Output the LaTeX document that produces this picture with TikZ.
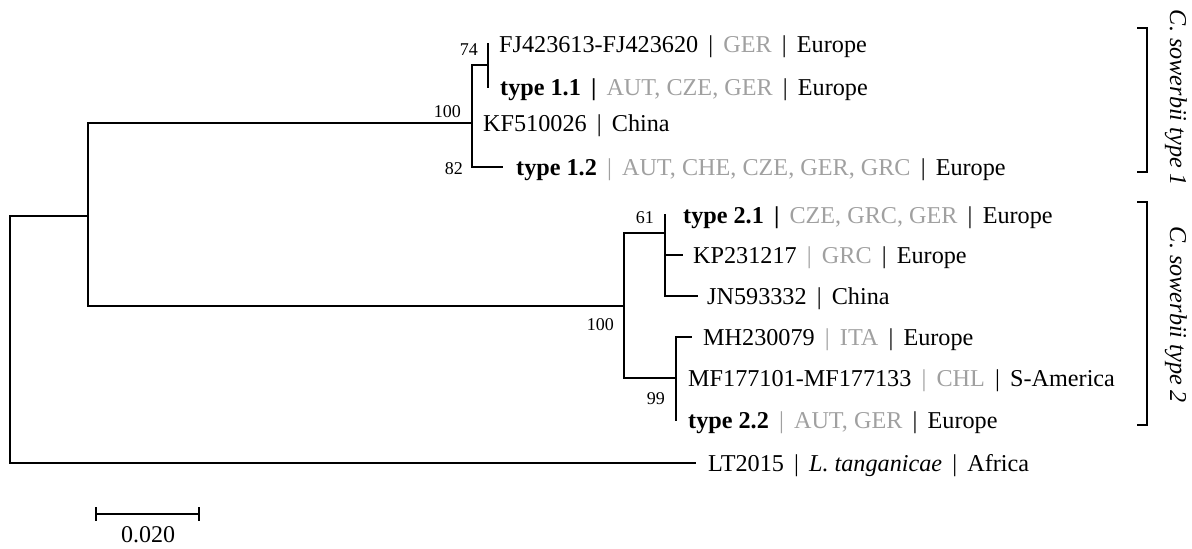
\documentclass[tikz,border=0pt]{standalone}
\usepackage{fontspec}
\setmainfont{Liberation Serif}
\definecolor{tgray}{RGB}{160,160,160}
\newcommand{\sepb}{\hspace{0.42em}|\hspace{0.42em}}
\newcommand{\sepg}{\hspace{0.42em}\textcolor{tgray}{|}\hspace{0.42em}}
\newcommand{\sepbold}{\hspace{0.42em}\textbf{|}\hspace{0.42em}}
\begin{document}
\begin{tikzpicture}[x=1pt,y=-1pt,
  branch/.style={line width=1.4pt, line cap=rect},
  leaf/.style={font=\fontsize{24.2}{28}\selectfont, inner sep=0pt, anchor=base west},
  boot/.style={font=\fontsize{18}{20}\selectfont, inner sep=0pt, anchor=east},
  clade/.style={font=\fontsize{24.2}{28}\selectfont\itshape, inner sep=0pt, rotate=-90},
  brack/.style={line width=1.3pt}]
\useasboundingbox (0,0) rectangle (1192,549);
% internal nodes
\coordinate (root) at (10,216);
\coordinate (n1) at (88,216);
\coordinate (c1) at (472,123);
\coordinate (s74) at (488,65);
\coordinate (c2) at (624,306);
\coordinate (a61) at (665,233);
\coordinate (b99) at (676,378);
% tips
\coordinate (fj) at (488,44);
\coordinate (t11) at (488,87);
\coordinate (kf) at (472,123);
\coordinate (t12) at (502,167);
\coordinate (t21) at (665,215);
\coordinate (kp) at (682,255);
\coordinate (jn) at (697,296);
\coordinate (mh) at (691,337);
\coordinate (mf) at (676,378);
\coordinate (t22) at (676,420);
\coordinate (lt) at (695,463);
% branches
\draw[branch] (root) |- (n1);
\draw[branch] (root) |- (lt);
\draw[branch] (n1) |- (c1);
\draw[branch] (n1) |- (c2);
\draw[branch] (c1) |- (s74);
\draw[branch] (c1) |- (t12);
\draw[branch] (s74) |- (fj);
\draw[branch] (s74) |- (t11);
\draw[branch] (c2) |- (a61);
\draw[branch] (c2) |- (b99);
\draw[branch] (a61) |- (t21);
\draw[branch] (a61) |- (kp);
\draw[branch] (a61) |- (jn);
\draw[branch] (b99) |- (mh);
\draw[branch] (b99) |- (mf);
\draw[branch] (b99) |- (t22);
% leaf labels
\node[leaf] (Lfj) at (499,52) {FJ423613-FJ423620\sepb\textcolor{tgray}{GER}\sepb Europe};
\node[leaf] (Lt11) at (500,95) {\textbf{type 1.1}\sepbold\textcolor{tgray}{AUT, CZE, GER}\sepb Europe};
\node[leaf] (Lkf) at (483,131) {KF510026\sepb China};
\node[leaf] (Lt12) at (516,175) {\textbf{type 1.2}\sepg\textcolor{tgray}{AUT, CHE, CZE, GER, GRC}\sepb Europe};
\node[leaf] (Lt21) at (683,223) {\textbf{type 2.1}\sepbold\textcolor{tgray}{CZE, GRC, GER}\sepb Europe};
\node[leaf] (Lkp) at (693,263) {KP231217\sepg\textcolor{tgray}{GRC}\sepb Europe};
\node[leaf] (Ljn) at (707,304) {JN593332\sepb China};
\node[leaf] (Lmh) at (703,345) {MH230079\sepg\textcolor{tgray}{ITA}\sepb Europe};
\node[leaf] (Lmf) at (688,386) {MF177101-MF177133\sepg\textcolor{tgray}{CHL}\sepb S-America};
\node[leaf] (Lt22) at (688,428) {\textbf{type 2.2}\sepg\textcolor{tgray}{AUT, GER}\sepb Europe};
\node[leaf] (Llt) at (708,471) {LT2015\sepb\textit{L. tanganicae}\sepb Africa};
% bootstrap values
\node[boot] (b74) at (478,50) {74};
\node[boot] (b100a) at (461,112) {100};
\node[boot] (b82) at (463,169) {82};
\node[boot] (b61) at (654,218) {61};
\node[boot] (b100b) at (614,325) {100};
\node[boot] (bb99) at (665,399) {99};
% scale bar
\coordinate (sa) at (96,514);
\coordinate (sb) at (199,514);
\draw[line width=1.4pt] (sa) -- (sb);
\draw[line width=1.4pt] ([yshift=7pt]sa) -- ([yshift=-7pt]sa);
\draw[line width=1.4pt] ([yshift=7pt]sb) -- ([yshift=-7pt]sb);
\node[font=\fontsize{24}{28}\selectfont, inner sep=0pt] (slabel) at (148,535) {0.020};
% clade brackets
\coordinate (k1a) at (1137,28);
\coordinate (k1b) at (1137,172);
\coordinate (k2a) at (1137,202);
\coordinate (k2b) at (1137,425);
\draw[brack] (k1a) -- ++(10,0) |- (k1b);
\draw[brack] (k2a) -- ++(10,0) |- (k2b);
\node[clade] (cl1) at (1176,98) {C. sowerbii type 1};
\node[clade] (cl2) at (1176,315) {C. sowerbii type 2};
\end{tikzpicture}
\end{document}
